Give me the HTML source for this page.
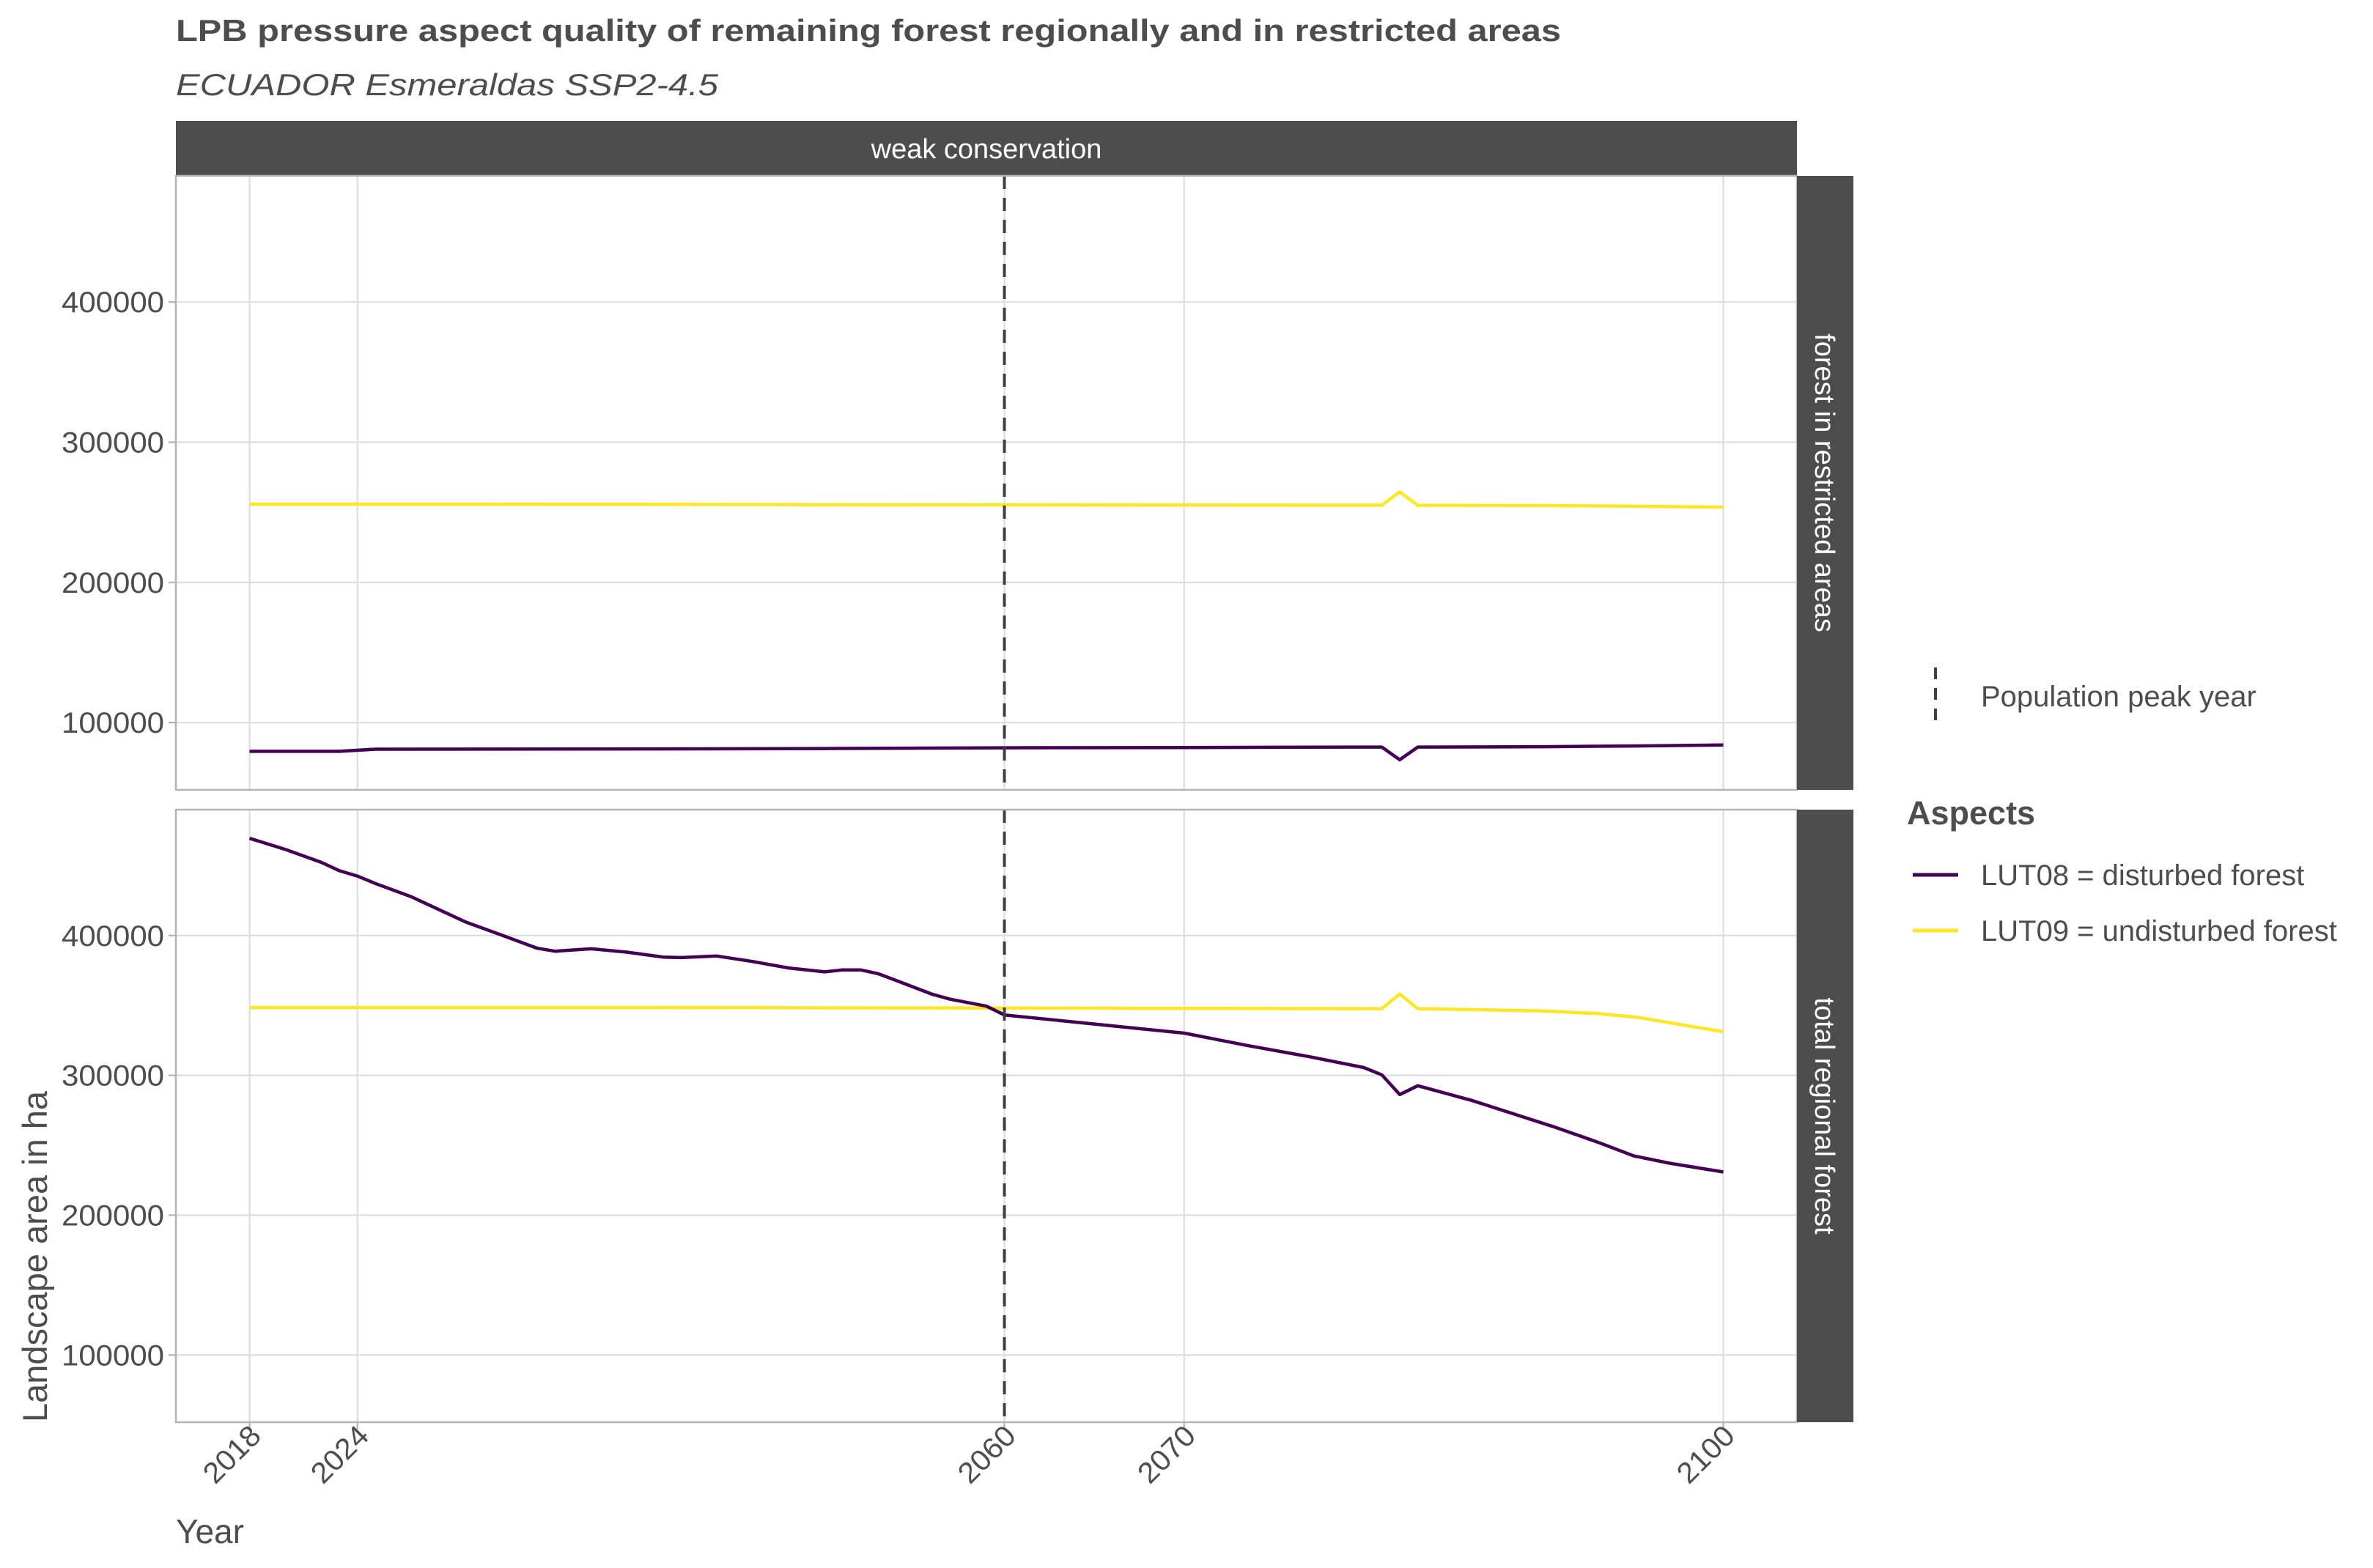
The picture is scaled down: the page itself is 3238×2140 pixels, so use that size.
<!DOCTYPE html>
<html><head><meta charset="utf-8"><style>
html,body{margin:0;padding:0;background:#fff;}
svg{display:block;font-family:"Liberation Sans",sans-serif;}
</style></head><body>
<svg id="chart" width="3238" height="2140" viewBox="0 0 3238 2140" xmlns="http://www.w3.org/2000/svg">
<text x="240" y="56" font-size="42" font-weight="bold" fill="#4d4d4d" textLength="1890" lengthAdjust="spacingAndGlyphs">LPB pressure aspect quality of remaining forest regionally and in restricted areas</text>
<text x="240" y="130" font-size="42" font-style="italic" fill="#4d4d4d" textLength="740" lengthAdjust="spacingAndGlyphs">ECUADOR Esmeraldas SSP2-4.5</text>
<rect x="240" y="165" width="2212" height="75" fill="#4d4d4d"/>
<text x="1346" y="216" font-size="38" fill="#fff" text-anchor="middle">weak conservation</text>
<g id="panels"></g>
<text x="240" y="2106" font-size="46" fill="#4d4d4d">Year</text>
<text transform="translate(64,1941) rotate(-90)" font-size="47" fill="#4d4d4d">Landscape area in ha</text>
<g>
<line x1="2641" y1="911" x2="2641" y2="987" stroke="#404040" stroke-width="4" stroke-dasharray="16,12"/>
<text x="2703" y="964" font-size="40" fill="#4d4d4d">Population peak year</text>
</g>
<g>
<text x="2602" y="1125" font-size="45" font-weight="bold" fill="#4d4d4d">Aspects</text>
<line x1="2610" y1="1194" x2="2672" y2="1194" stroke="#440154" stroke-width="5"/>
<text x="2703" y="1208" font-size="40" fill="#4d4d4d">LUT08 = disturbed forest</text>
<line x1="2610" y1="1270" x2="2672" y2="1270" stroke="#FDE725" stroke-width="5"/>
<text x="2703" y="1284" font-size="40" fill="#4d4d4d">LUT09 = undisturbed forest</text>
</g>
</svg>
<script>
const yTicks = [100000, 200000, 300000, 400000];
const xTicks = [2018, 2024, 2060, 2070, 2100];
const peakYear = 2060;
const panelLabels = ["forest in restricted areas", "total regional forest"];
const restrictedYears = [2018, 2023, 2025, 2040, 2050, 2060, 2070, 2080, 2081, 2082, 2083, 2090, 2095, 2100];
const restrictedLUT08 = [79500, 79500, 81000, 81200, 81500, 82000, 82200, 82500, 82500, 73500, 82500, 82800, 83300, 84000];
const restrictedLUT09 = [255800, 255800, 255800, 255700, 255500, 255300, 255200, 255100, 255100, 264500, 255000, 254800, 254400, 253600];
const totalYears = [2018, 2020, 2022, 2023, 2024, 2025, 2027, 2030, 2032, 2034, 2035, 2037, 2039, 2041, 2042, 2044, 2046, 2048, 2050, 2051, 2052, 2053, 2054, 2056, 2057, 2059, 2060, 2070, 2073.5, 2077, 2080, 2081, 2082, 2083, 2086, 2090.5, 2093, 2095, 2097, 2100];
const totalLUT08 = [469500, 461500, 452300, 446300, 442500, 437200, 427700, 409800, 400400, 390900, 388800, 390500, 388100, 384600, 384200, 385300, 381400, 376800, 374000, 375400, 375400, 372600, 367700, 357900, 354400, 349500, 343200, 330200, 321400, 313300, 305600, 300400, 286300, 292600, 282100, 263500, 252300, 242500, 237200, 230900];
const totalLUT09Years = [2018, 2040, 2060, 2070, 2081, 2082, 2083, 2090, 2093, 2095.3, 2097.2, 2100];
const totalLUT09 = [348500, 348500, 348100, 347900, 347700, 358200, 347700, 346000, 344200, 341400, 337200, 331200];

const NS = "http://www.w3.org/2000/svg";
const g = document.getElementById("panels");
const X0 = 240, X1 = 2452, XMIN = 2013.9, XMAX = 2104.1;
const YMIN = 52000, YMAX = 490000;
function xs(v){ return X0 + (v - XMIN) / (XMAX - XMIN) * (X1 - X0); }
function mk(tag, attrs){ const e = document.createElementNS(NS, tag); for (const k in attrs) e.setAttribute(k, attrs[k]); g.appendChild(e); return e; }

const panels = [
  {top:240, bot:1078, series:[[restrictedYears, restrictedLUT09, "#FDE725", "line-lut09-restricted"], [restrictedYears, restrictedLUT08, "#440154", "line-lut08-restricted"]]},
  {top:1105, bot:1941, series:[[totalLUT09Years, totalLUT09, "#FDE725", "line-lut09-total"], [totalYears, totalLUT08, "#440154", "line-lut08-total"]]}
];
panels.forEach((p, pi) => {
  const ys = v => p.bot - (v - YMIN) / (YMAX - YMIN) * (p.bot - p.top);
  yTicks.forEach(t => {
    const l = mk("line", {x1:X0, x2:X1, y1:ys(t), y2:ys(t), stroke:"#dedede", "stroke-width":2.2});
    
    
    const tk = mk("line", {x1:X0-10, x2:X0, y1:ys(t), y2:ys(t), stroke:"#b3b3b3", "stroke-width":2.2});
    
    
    const tx = mk("text", {x:X0-16, y:ys(t)+14, "font-size":40, fill:"#4d4d4d", "text-anchor":"end", textLength:140, lengthAdjust:"spacingAndGlyphs"});
    tx.textContent = t;
    
    
  });
  xTicks.forEach(t => {
    const l = mk("line", {x1:xs(t), x2:xs(t), y1:p.top, y2:p.bot, stroke:"#dedede", "stroke-width":2.2});
    
    
  });
  p.series.forEach(s => {
    const d = s[0].map((yr, i) => (i ? "L" : "M") + xs(yr).toFixed(1) + "," + ys(s[1][i]).toFixed(1)).join(" ");
    const path = mk("path", {d:d, fill:"none", stroke:s[2], "stroke-width":4.5, "stroke-linejoin":"round"});
    
    
  });
  const dl = mk("line", {x1:xs(peakYear), x2:xs(peakYear), y1:p.top, y2:p.bot, stroke:"#404040", "stroke-width":4, "stroke-dasharray":"18,12"});
  
  
  const bd = mk("rect", {x:X0, y:p.top, width:X1-X0, height:p.bot-p.top, fill:"none", stroke:"#b3b3b3", "stroke-width":2.5});
  
  
  const st = mk("rect", {x:X1, y:p.top, width:77, height:p.bot-p.top, fill:"#4d4d4d"});
  
  
  const sl = mk("text", {transform:"translate(" + (X1+25) + "," + ((p.top+p.bot)/2) + ") rotate(90)", "font-size":38, fill:"#fff", "text-anchor":"middle"});
  sl.textContent = panelLabels[pi];
  
  
});
xTicks.forEach(t => {
  const tk = mk("line", {x1:xs(t), x2:xs(t), y1:1941, y2:1951, stroke:"#b3b3b3", "stroke-width":2.2});
  
  
  const tx = mk("text", {transform:"translate(" + (xs(t)+18) + ",1962) rotate(-45)", "font-size":40, fill:"#4d4d4d", "text-anchor":"end", textLength:92, lengthAdjust:"spacingAndGlyphs"});
  tx.textContent = t;
  
  
});
</script>
</body></html>
